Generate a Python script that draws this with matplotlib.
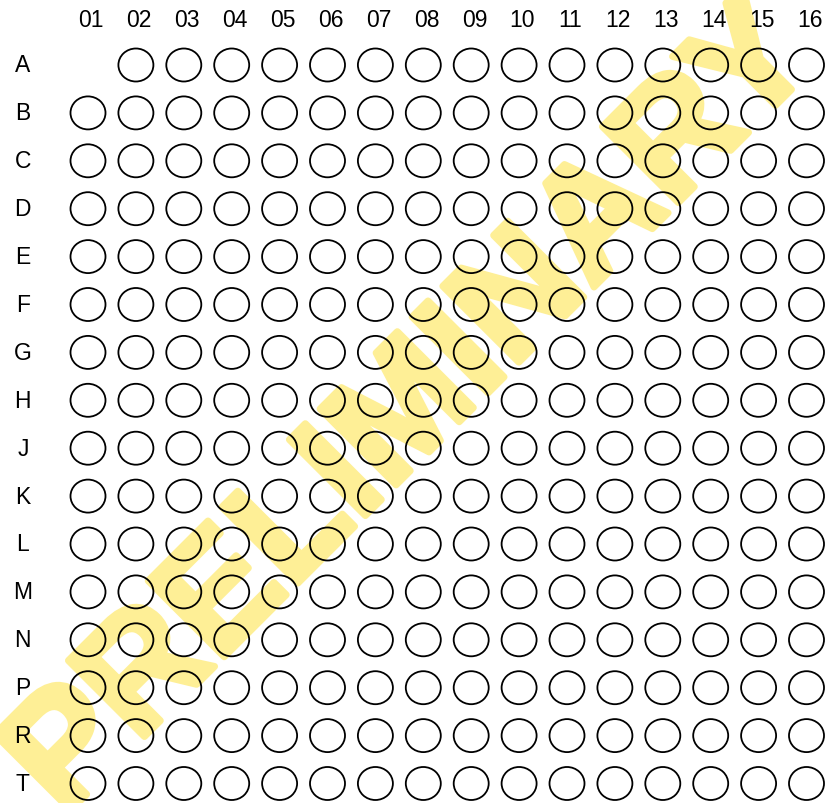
import matplotlib
matplotlib.use("Agg")
import matplotlib.pyplot as plt
from matplotlib.patches import Ellipse
import matplotlib.patheffects as pe

# ---- data ----
columns = ["01", "02", "03", "04", "05", "06", "07", "08",
           "09", "10", "11", "12", "13", "14", "15", "16"]
rows = ["A", "B", "C", "D", "E", "F", "G", "H",
        "J", "K", "L", "M", "N", "P", "R", "T"]
missing_wells = [("A", "01")]
watermark = "PRELIMINARY"

W, H, DPI = 825, 804, 100
fig = plt.figure(figsize=(W / DPI, H / DPI), dpi=DPI)
ax = fig.add_axes([0, 0, 1, 1])
ax.set_axis_off()

# map: column index 0..15, row index 0..15
px_per = 47.9
x0_px, y0_px = 88, 66
ax.set_xlim(-x0_px / px_per, (W - x0_px) / px_per)
ax.set_ylim((H - y0_px) / px_per, -y0_px / px_per)

font = "Liberation Sans"
wm_color = "#FEEF96"

# watermark (behind everything)
ax.text(442 / W, 1 - 440 / H, watermark, transform=fig.transFigure,
        rotation=45, rotation_mode="anchor",
        ha="center", va="baseline", fontsize=112.5, fontweight="bold",
        color=wm_color, family=font, zorder=0, clip_on=False,
        path_effects=[pe.Stroke(linewidth=5, foreground=wm_color), pe.Normal()])

for ci, c in enumerate(columns):
    ax.text(ci + 0.07, -0.94, c, ha="center", va="center", fontsize=16.5,
            family=font, color="black", zorder=4)
for ri, r in enumerate(rows):
    ax.text(-1.36, ri, r, ha="center", va="center", fontsize=16.5,
            family=font, color="black", zorder=4)
    for ci, c in enumerate(columns):
        if (r, c) in missing_wells:
            continue
        ax.add_patch(Ellipse((ci, ri), 35 / px_per, 33 / px_per,
                             fill=False, edgecolor="black", lw=1.3, zorder=3))

fig.savefig("out.png", dpi=DPI)
